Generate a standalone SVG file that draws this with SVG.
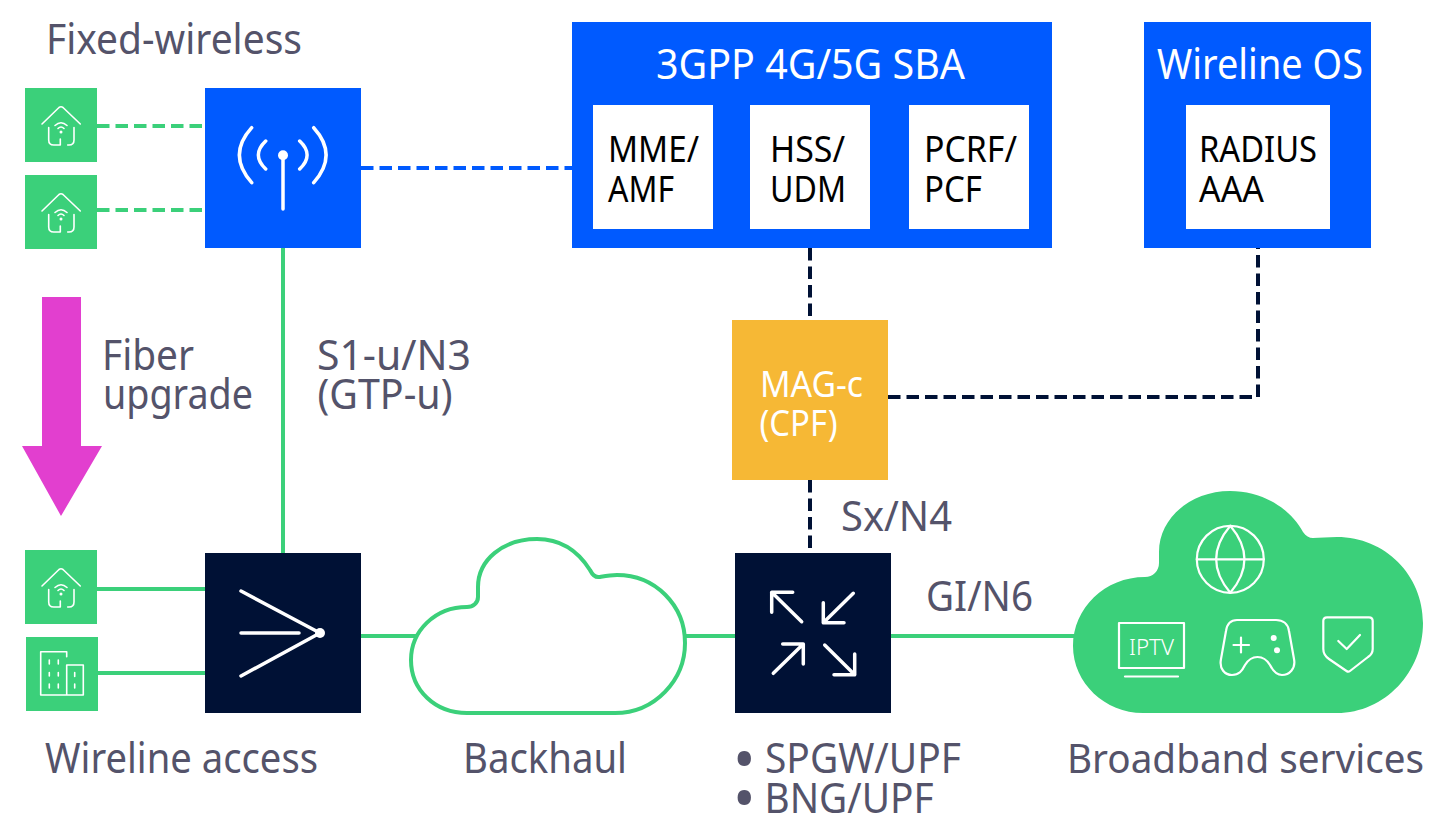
<svg xmlns="http://www.w3.org/2000/svg" width="1430" height="816" viewBox="0 0 1430 816">
<style>
text{font-family:"Noto Sans","Liberation Sans",sans-serif;font-size:41px;fill:#54536a}
.w{fill:#fff}
.w3{fill:#fff;font-size:42px}
.m{fill:#fff;font-size:37px}
.k{fill:#000;font-size:37px}
.g{fill:#3bd07a}
.b{fill:#005aff}
.gl{stroke:#3bd07a;stroke-width:4;fill:none}
.gd{stroke:#3bd07a;stroke-width:4;fill:none;stroke-dasharray:12.500 6}
.bd{stroke:#005aff;stroke-width:4;fill:none;stroke-dasharray:12.500 6}
.nd{stroke:#001135;stroke-width:4;fill:none;stroke-dasharray:12.500 6}
.ic{stroke:#fff;fill:none;stroke-linecap:round;stroke-linejoin:round;stroke-width:3.500}
.th{stroke:#fff;fill:none;stroke-linecap:round;stroke-linejoin:round;stroke-width:1.600}
.md{stroke:#fff;fill:none;stroke-linecap:round;stroke-linejoin:round;stroke-width:2.200}
</style>
<defs>
<g id="house">
<rect width="72" height="74" class="g"/>
<path class="th" d="M17 36L34 19.500Q36 18 38 19.500L55.300 36M23.700 39.500V52Q23.700 57 28.700 57H35.300V51M49 39.500V52Q49 57 44 57H42.700M30 37.500Q36 32 42 37.500M33 40.500Q36 37.500 39 40.500"/>
<circle cx="36" cy="44" r="1.500" fill="#fff"/>
</g>
</defs>
<g id="connectors">
<path class="gd" d="M97 126H205"/>
<path class="gd" d="M97 210H205"/>
<path class="gl" d="M97 589H205"/>
<path class="gl" d="M98 673H205"/>
<path class="gl" d="M283 248V553"/>
<path class="gl" d="M361 636H416"/>
<path class="gl" d="M684 636H735"/>
<path class="gl" d="M891 636H1075"/>
<path class="bd" d="M361 168H572"/>
<path class="nd" d="M810 248V320"/>
<path class="nd" d="M810 480V553"/>
<path class="nd" d="M888 397H1258V248"/>
</g>
<g id="label-fixed"><text x="46" y="54" textLength="256" lengthAdjust="spacingAndGlyphs">Fixed-wireless</text></g>
<g id="cpe1"><use href="#house" x="25" y="88"/></g>
<g id="cpe2"><use href="#house" x="25" y="175"/></g>
<g id="tower">
<rect x="205" y="88" width="156" height="160" class="b"/>
<path class="ic" d="M283 155V209M251.700 127.700Q227 155 251.700 182.700M265.700 141Q251 155 265.700 169M313.700 127.700Q338.500 155 313.700 182.700M299.700 141Q314.500 155 299.700 169"/>
<circle cx="283" cy="155.300" r="5" fill="#fff"/>
</g>
<g id="sba">
<rect x="572" y="22" width="480" height="226" class="b"/>
<text class="w3" x="656" y="79" textLength="309" lengthAdjust="spacingAndGlyphs">3GPP 4G/5G SBA</text>
<rect x="593" y="105" width="120" height="124" class="w"/>
<rect x="750" y="105" width="120" height="124" class="w"/>
<rect x="909" y="105" width="120" height="124" class="w"/>
<text class="k" x="608" y="162" textLength="91" lengthAdjust="spacingAndGlyphs">MME/</text><text class="k" x="608" y="202" textLength="66" lengthAdjust="spacingAndGlyphs">AMF</text>
<text class="k" x="770" y="162" textLength="75" lengthAdjust="spacingAndGlyphs">HSS/</text><text class="k" x="770" y="202" textLength="76" lengthAdjust="spacingAndGlyphs">UDM</text>
<text class="k" x="924" y="162" textLength="93" lengthAdjust="spacingAndGlyphs">PCRF/</text><text class="k" x="924" y="202" textLength="58" lengthAdjust="spacingAndGlyphs">PCF</text>
</g>
<g id="wireline-os">
<rect x="1144" y="22" width="227" height="226" class="b"/>
<text class="w3" x="1157" y="79" textLength="206" lengthAdjust="spacingAndGlyphs">Wireline OS</text>
<rect x="1186" y="105" width="144" height="124" class="w"/>
<text class="k" x="1199" y="162" textLength="118" lengthAdjust="spacingAndGlyphs">RADIUS</text><text class="k" x="1199" y="202" textLength="65" lengthAdjust="spacingAndGlyphs">AAA</text>
</g>
<g id="upgrade">
<path d="M42 297H81V446H102L61 516L22 446H42Z" fill="#e23fcf"/>
<text x="102" y="370" textLength="92" lengthAdjust="spacingAndGlyphs">Fiber</text><text x="103" y="408.500" textLength="150" lengthAdjust="spacingAndGlyphs">upgrade</text>
</g>
<g id="label-s1"><text x="317" y="370" textLength="154" lengthAdjust="spacingAndGlyphs">S1-u/N3</text><text x="317.500" y="408.500" textLength="135" lengthAdjust="spacingAndGlyphs">(GTP-u)</text></g>
<g id="mag">
<rect x="732" y="320" width="156" height="160" fill="#f6b835"/>
<text class="m" x="760" y="397" textLength="103" lengthAdjust="spacingAndGlyphs">MAG-c</text><text class="m" x="759.500" y="436" textLength="78" lengthAdjust="spacingAndGlyphs">(CPF)</text>
</g>
<g id="label-sx"><text x="841" y="531" textLength="111" lengthAdjust="spacingAndGlyphs">Sx/N4</text></g>
<g id="label-gi"><text x="926" y="611" textLength="107" lengthAdjust="spacingAndGlyphs">GI/N6</text></g>
<g id="cpe3"><use href="#house" x="25" y="550"/></g>
<g id="building">
<rect x="26" y="637" width="72" height="74" class="g"/>
<path class="th" d="M66.700 656.700V651.700H40.700V695H83.300V665H66.700V695M49.300 660V664M58.300 660V664M49.300 672.500V676M58.300 672.500V676M49.300 684V688M58.300 684V688M74.700 672.500V676.500M74.700 684V688"/>
</g>
<g id="access">
<rect x="205" y="553" width="156" height="160" fill="#001135"/>
<path class="ic" d="M241 591L320 633M241 633H299M241 676L320 633"/>
<circle cx="320" cy="633" r="5" fill="#fff"/>
</g>
<g id="backhaul">
<path fill="#fff" stroke="#3bd07a" stroke-width="4" d="M467 713H615C655 713 685 680 685 643C685 605 655 575 617 575C610 575 605 576 599 577C595 577.500 592 574 590 570C578 551 560 539 537 539C503 539 478 560 478 587V597C478 603 473 607 467 607C435 607 411 631 411 660C411 690 435 713 467 713Z"/>
<text x="463" y="773" textLength="164" lengthAdjust="spacingAndGlyphs">Backhaul</text>
</g>
<g id="upf">
<rect x="735" y="553" width="156" height="160" fill="#001135"/>
<path class="ic" d="M801.700 621.700L771.700 592.300H792.700M771.700 592.300V612.300M853.300 593.300L823.300 622.700H844M823.300 622.700V602.700M773.300 673.300L803.300 644H782.700M803.300 644V664M824.700 645L854.700 674.700H834M854.700 674.700V654"/>
</g>
<g id="services">
<path class="g" d="M1143 713H1337C1385 713 1423 672 1423 623C1423 575 1385 537 1337 537C1328 537 1320 538 1313 538C1309 538 1306 536 1303 532C1290 508 1262 491 1230 491C1191 491 1159 518 1159 552V563C1159 571 1153 577 1145 577C1105 577 1073 608 1073 646C1073 683 1105 713 1143 713Z"/>
<g class="md">
<circle cx="1230.300" cy="559.300" r="33.500"/>
<path d="M1196.800 559.300H1263.800M1230.300 525.800Q1202 559.300 1230.300 592.800Q1258.600 559.300 1230.300 525.800"/>
<rect x="1119" y="623" width="65" height="45"/>
<path d="M1125 676.500H1178"/>
<path d="M1237 620H1276C1283 620 1288 624 1289 631L1294 659C1296 669 1289 675 1282 675C1276 675 1273 671 1270 665C1267 660 1263 657 1257.500 657C1252 657 1248 660 1245 665C1242 671 1239 675 1232 675C1225 675 1219 669 1221 659L1226 631C1227 624 1231 620 1237 620Z"/>
<path d="M1233.500 645H1249M1241 637.500V652.500"/>
<path d="M1327 617.300H1369Q1372.700 617.300 1372.700 621V649Q1372.700 654 1368 657L1350 671Q1348.300 672.300 1346.500 671L1329 659Q1323.300 655 1323.300 649V621Q1323.300 617.300 1327 617.300ZM1338.300 641L1346.700 649L1360 635"/>
</g>
<circle cx="1273.700" cy="638" r="3" fill="#fff"/><circle cx="1277" cy="650.300" r="3" fill="#fff"/>
<text x="1129" y="655" style="font-size:22px;font-weight:300;fill:#fff" textLength="45" lengthAdjust="spacingAndGlyphs">IPTV</text>
</g>
<g id="labels-bottom">
<text x="45" y="773" textLength="273" lengthAdjust="spacingAndGlyphs">Wireline access</text>
<text x="733" y="781" style="font-size:60px">•</text>
<text x="733" y="820" style="font-size:60px">•</text>
<text x="765" y="773" textLength="196" lengthAdjust="spacingAndGlyphs">SPGW/UPF</text>
<text x="764.500" y="813" textLength="169" lengthAdjust="spacingAndGlyphs">BNG/UPF</text>
<text x="1067" y="773" textLength="357" lengthAdjust="spacingAndGlyphs" style="font-size:40px">Broadband services</text>
</g>
</svg>
